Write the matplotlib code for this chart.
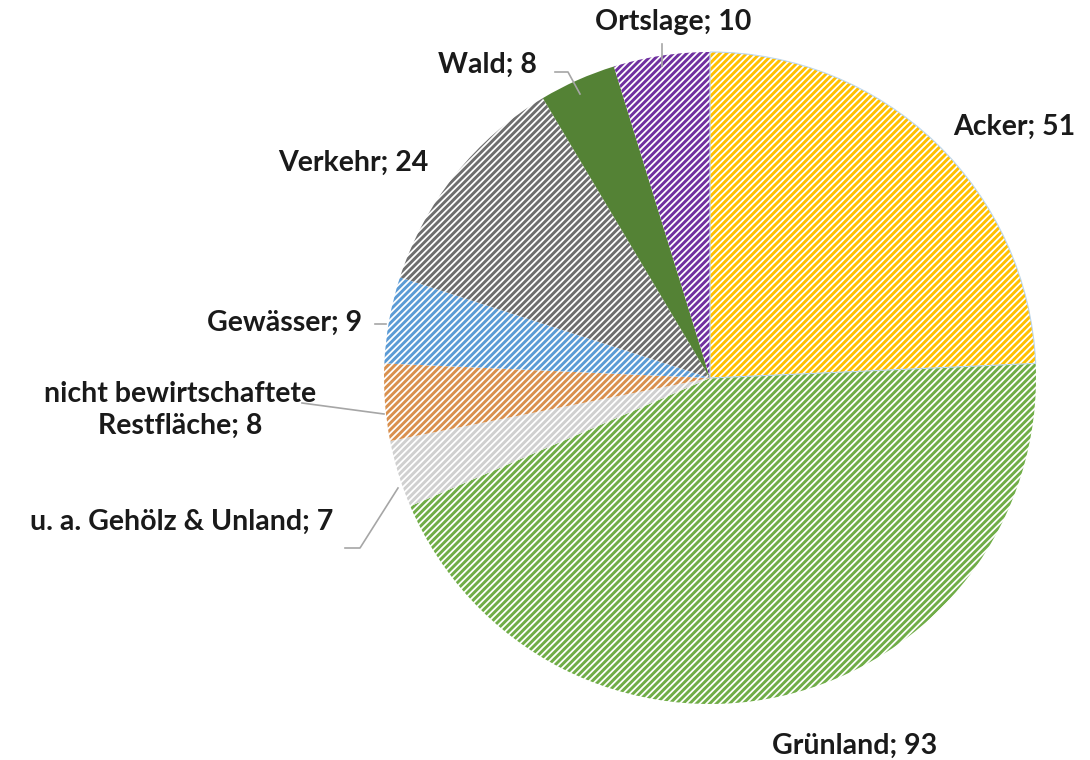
import matplotlib.pyplot as plt

labels = ['Acker', 'Grünland', 'u. a. Gehölz & Unland', 'nicht bewirtschaftete\nRestfläche',
          'Gewässer', 'Verkehr', 'Wald', 'Ortslage']
values = [51, 93, 7, 8, 9, 24, 8, 10]
colors = ['#FFC000', '#70AD47', '#D0D0D0', '#D9904E', '#5B9BD5', '#6E6E6E', '#548235', '#7030A0']
hatches = ['/////', '/////', '/////', '/////', '/////', '/////', None, '/////']

plt.rcParams['font.family'] = ['Lato', 'DejaVu Sans']
plt.rcParams['hatch.linewidth'] = 2.1

fig = plt.figure(figsize=(10.9, 7.6), dpi=100)
ax = fig.add_axes([0, 0, 1, 1])

R = 326.0
cx, cy = 710, 378
def px(x, y):
    return (x - cx) / R, (cy - y) / R

wedges, _ = ax.pie(values, startangle=90, counterclock=False, radius=1.0,
                   wedgeprops=dict(linewidth=0))
for w, c, h in zip(wedges, colors, hatches):
    if h is None:
        w.set_facecolor(c)
        w.set_edgecolor(c)
    else:
        w.set_facecolor('white')
        w.set_edgecolor(c)
        w.set_hatch(h)
        w.set_linewidth(0)

# thin light outline on the Acker arc
ax.pie([values[0], sum(values[1:])], startangle=90, counterclock=False, radius=1.0,
       colors=['none', 'none'], wedgeprops=dict(linewidth=0.8, edgecolor='#BDD7EE'))[0][1].set_edgecolor('none')

# label positions (pixel centres) and leader lines
label_pos = [(1014, 127), (855, 746), (182, 522), (180, 410), (285, 323), (353, 163), (487, 65), (673, 22)]
leaders = {
    2: [(345, 548), (360, 548), (398, 488)],
    3: [(302, 403), (384, 414)],
    4: [(375, 324), (386, 324)],
    6: [(555, 72), (568, 72), (580, 94)],
    7: [(662, 44), (662, 66)],
}
for i, (lab, v) in enumerate(zip(labels, values)):
    x, y = px(*label_pos[i])
    ax.text(x, y, f'{lab}; {v}', ha='center', va='center', fontsize=20.5,
            fontweight='bold', color='#1a1a1a', linespacing=1.3)
    if i in leaders:
        pts = [px(*p) for p in leaders[i]]
        ax.plot([p[0] for p in pts], [p[1] for p in pts], color='#A6A6A6', lw=1.2)

ax.set_xlim(-cx / R, (1090 - cx) / R)
ax.set_ylim((cy - 760) / R, cy / R)
ax.set_aspect('auto')
ax.axis('off')

fig.savefig('out.png', dpi=100)
